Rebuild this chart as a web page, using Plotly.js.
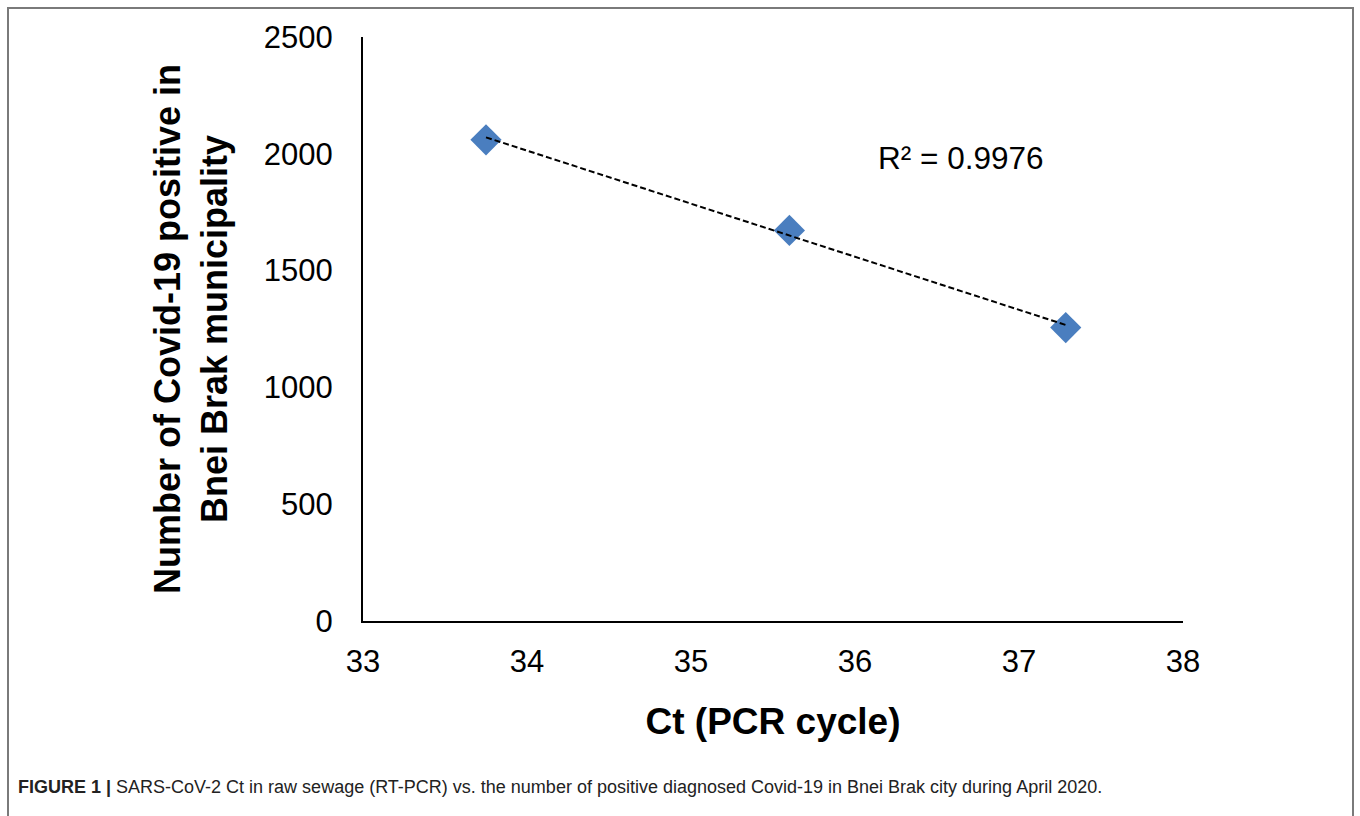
<!DOCTYPE html>
<html>
<head>
<meta charset="utf-8">
<script src="https://cdn.plot.ly/plotly-3.0.1.min.js"></script>
<style>
html,body{margin:0;padding:0;background:#fff;overflow:hidden;}
#frame{position:absolute;left:7px;top:7px;width:1347px;height:840px;border:2px solid #7a7a7a;box-sizing:border-box;pointer-events:none;}
#chart{position:absolute;left:0;top:0;width:1360px;height:816px;}
</style>
</head>
<body>
<div id="chart"></div>
<div id="frame"></div>
<script>
// Data
const ctValues = [33.75, 35.60, 37.285];
const positiveCases = [2060, 1672, 1256];
const xTicks = [33, 34, 35, 36, 37, 38];
const yTicks = [0, 500, 1000, 1500, 2000, 2500];
const r2Label = "R² = 0.9976";
const xTitle = "Ct (PCR cycle)";
const yTitle = "Number of Covid-19 positive in<br>Bnei Brak municipality";
const captionBold = "FIGURE 1 |";
const captionText = " SARS-CoV-2 Ct in raw sewage (RT-PCR) vs. the number of positive diagnosed Covid-19 in Bnei Brak city during April 2020.";

// Linear least-squares trendline (Excel-style) from the data
const n = ctValues.length;
const mx = ctValues.reduce((a,b)=>a+b,0)/n;
const my = positiveCases.reduce((a,b)=>a+b,0)/n;
let sxy=0,sxx=0;
for(let i=0;i<n;i++){sxy+=(ctValues[i]-mx)*(positiveCases[i]-my);sxx+=(ctValues[i]-mx)**2;}
const slope = sxy/sxx, intercept = my - slope*mx;
const xMin = Math.min(...ctValues), xMax = Math.max(...ctValues);
const trendX = [xMin, xMax];
const trendY = trendX.map(x=>intercept+slope*x);

const font = "Liberation Sans, Arial, Helvetica, sans-serif";

const traces = [
  {x: ctValues, y: positiveCases, type:'scatter', mode:'markers',
   marker:{symbol:'diamond', size:24, color:'#4a7ebf', line:{width:0}},
   hoverinfo:'x+y', showlegend:false},
  {x: trendX, y: trendY, type:'scatter', mode:'lines',
   line:{color:'#000', width:2, dash:'6px,3px'}, hoverinfo:'skip', showlegend:false}
];

const layout = {
  width:1360, height:816,
  margin:{l:363, r:177, t:37, b:195},
  paper_bgcolor:'rgba(0,0,0,0)', plot_bgcolor:'#fff',
  font:{family:font, color:'#000'},
  showlegend:false,
  xaxis:{range:[33,38], tickvals:xTicks, ticktext:xTicks.map(String),
    showgrid:false, zeroline:false, showline:true, linecolor:'#000', linewidth:2,
    ticks:'', tickfont:{size:31, family:font, color:'#000'}, ticklabelstandoff:12,
    title:{text:xTitle, font:{size:37, family:font, weight:'bold', color:'#000'}, standoff:30}},
  yaxis:{range:[0,2500], tickvals:yTicks, ticktext:yTicks.map(String),
    showgrid:false, zeroline:false, showline:true, linecolor:'#000', linewidth:2,
    ticks:'', tickfont:{size:31, family:font, color:'#000'}, ticklabelstandoff:22,
    title:{text:yTitle, font:{size:36, family:font, weight:'bold', color:'#000'}, standoff:25}},
  annotations:[
    {text:r2Label, x:0.729, y:0.793, xref:'paper', yref:'paper', xanchor:'center', yanchor:'middle',
     showarrow:false, font:{size:31.5, family:font, color:'#000'}},
    {text:'<b>'+captionBold+'</b>'+captionText, x:-0.423, y:-0.285, xref:'paper', yref:'paper',
     xanchor:'left', yanchor:'middle', showarrow:false, align:'left',
     font:{size:18, family:"Liberation Sans Narrow, Arial Narrow, Liberation Sans, Arial, sans-serif", color:'#222'}}
  ]
};

Plotly.newPlot('chart', traces, layout, {displayModeBar:false, responsive:false});
</script>
</body>
</html>
